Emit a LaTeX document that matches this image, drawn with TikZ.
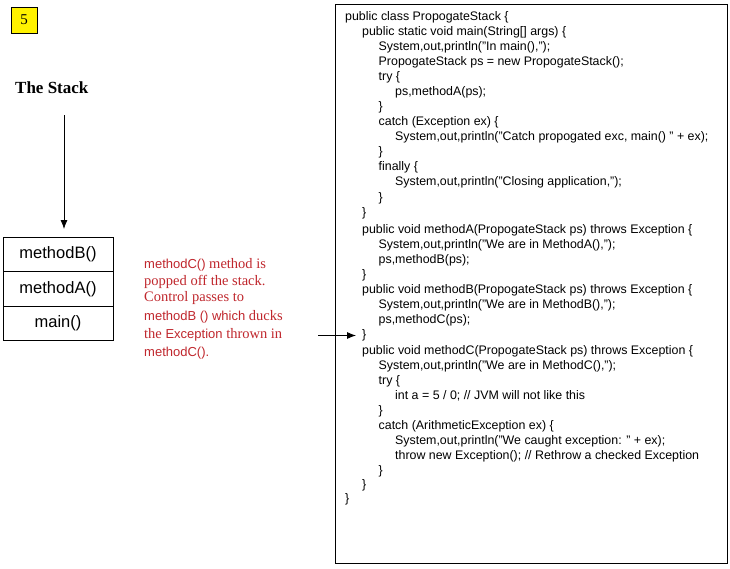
\documentclass[tikz,border=0pt]{standalone}
\usepackage{fontspec}
\setmainfont{Liberation Serif}
\setsansfont{Liberation Sans}
\usetikzlibrary{arrows.meta}
\definecolor{redtxt}{HTML}{C0272D}
\begin{document}
\begin{tikzpicture}[x=1pt,y=-1pt,
  codeline/.style={anchor=west,inner sep=0pt,font=\sffamily\fontsize{12.4}{14}\selectfont},
  stackbox/.style={draw,line width=0.8pt,minimum width=110pt,minimum height=34.5pt,inner sep=0pt,font=\sffamily\fontsize{16.5}{18}\selectfont},
  redline/.style={anchor=west,inner sep=0pt,text=redtxt,font=\fontsize{14.5}{16}\selectfont},
  conn/.style={line width=0.8pt,-{Latex[length=9pt,width=7pt]}}]
\useasboundingbox (0,0) rectangle (730,568);
\fill[white] (0,0) rectangle (730,568);
% number box
\node[draw,fill=yellow,line width=0.8pt,minimum width=26pt,minimum height=26pt,inner sep=0pt,font=\fontsize{15}{17}\selectfont] (num) at (24,20) {5};
% title
\node[anchor=west,inner sep=0pt,font=\bfseries\fontsize{17}{19}\selectfont] (title) at (15,88) {The Stack};
% stack
\node[stackbox] (s1) at (58,254.25) {methodB()};
\node[stackbox] (s2) at (58,288.75) {methodA()};
\node[stackbox] (s3) at (58,323.25) {main()};
\coordinate (a1s) at (64,115);
\coordinate (a1e) at (64,229);
\draw[conn] (a1s) -- (a1e);
% red explanation
\newcommand{\sfr}[1]{{\sffamily\fontsize{13}{15}\selectfont #1}}
\node[redline] (r1) at (144,265) {\sfr{methodC()} method is};
\node[redline] (r2) at (144,282) {popped off the stack.};
\node[redline] (r3) at (144,298) {Control passes to};
\node[redline] (r4) at (144,317) {\sfr{methodB () which} ducks};
\node[redline] (r5) at (144,335) {the \sfr{Exception} thrown in};
\node[redline] (r6) at (144,353) {\sfr{methodC().}};
% code box
\node[draw,line width=0.8pt,minimum width=392pt,minimum height=559pt,inner sep=0pt] (codebox) at (531,283.5) {};
\def\la{345}\def\lb{362}\def\lc{378.5}\def\ld{395}
\node[codeline] (c1) at (\la,17.5) {public class PropogateStack \{};
\node[codeline] (c2) at (\lb,32.5) {public static void main(String[] args) \{};
\node[codeline] (c3) at (\lc,47.5) {System,out,println("In main(),");};
\node[codeline] (c4) at (\lc,62.5) {PropogateStack ps = new PropogateStack();};
\node[codeline] (c5) at (\lc,77.5) {try \{};
\node[codeline] (c6) at (\ld,92.5) {ps,methodA(ps);};
\node[codeline] (c7) at (\lc,107.5) {\}};
\node[codeline] (c8) at (\lc,122.5) {catch (Exception ex) \{};
\node[codeline] (c9) at (\ld,137.5) {System,out,println("Catch propogated exc, main() " + ex);};
\node[codeline] (c10) at (\lc,152.5) {\}};
\node[codeline] (c11) at (\lc,167.5) {finally \{};
\node[codeline] (c12) at (\ld,182.5) {System,out,println("Closing application,");};
\node[codeline] (c13) at (\lc,198) {\}};
\node[codeline] (c14) at (\lb,213) {\}};
\node[codeline] (c15) at (\lb,230) {public void methodA(PropogateStack ps) throws Exception \{};
\node[codeline] (c16) at (\lc,245) {System,out,println("We are in MethodA(),");};
\node[codeline] (c17) at (\lc,260) {ps,methodB(ps);};
\node[codeline] (c18) at (\lb,275) {\}};
\node[codeline] (c19) at (\lb,290) {public void methodB(PropogateStack ps) throws Exception \{};
\node[codeline] (c20) at (\lc,305) {System,out,println("We are in MethodB(),");};
\node[codeline] (c21) at (\lc,320) {ps,methodC(ps);};
\node[codeline] (c22) at (\lb,335) {\}};
\node[codeline] (c23) at (\lb,351) {public void methodC(PropogateStack ps) throws Exception \{};
\node[codeline] (c24) at (\lc,366) {System,out,println("We are in MethodC(),");};
\node[codeline] (c25) at (\lc,381) {try \{};
\node[codeline] (c26) at (\ld,396) {int a = 5 / 0; // JVM will not like this};
\node[codeline] (c27) at (\lc,411) {\}};
\node[codeline] (c28) at (\lc,426) {catch (ArithmeticException ex) \{};
\node[codeline] (c29) at (\ld,441) {System,out,println("We caught exception: " + ex);};
\node[codeline] (c30) at (\ld,456) {throw new Exception(); // Rethrow a checked Exception};
\node[codeline] (c31) at (\lc,471) {\}};
\node[codeline] (c32) at (\lb,485) {\}};
\node[codeline] (c33) at (\la,499) {\}};
% arrow to closing brace of methodB
\coordinate (a2s) at (318,335.5);
\draw[conn,shorten >=6pt] (a2s) -- (c22.west |- a2s);
\end{tikzpicture}
\end{document}
